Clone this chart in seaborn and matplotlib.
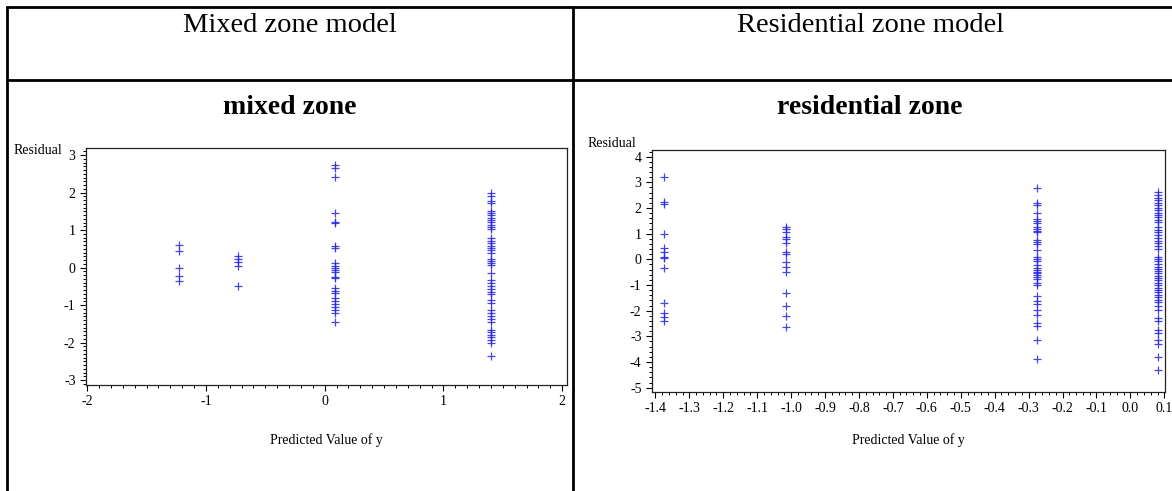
import numpy as np
import pandas as pd
import matplotlib
matplotlib.use("Agg")
import matplotlib.pyplot as plt
from matplotlib.lines import Line2D
from matplotlib.ticker import MultipleLocator, FuncFormatter
import seaborn as sns

# ---- data -------------------------------------------------------------
mixed_levels = [-1.23, -0.73, 0.09, 1.40]
mixed_resid_1 = [0.60, 0.45, -0.01, -0.23, -0.35]
mixed_resid_2 = [0.30, 0.22, 0.16, 0.05, -0.48]
mixed_resid_3 = [2.75, 2.66, 2.42, 1.45, 1.22, 1.19, 0.57, 0.52, 0.12, 0.05,
                 -0.02, -0.06, -0.12, -0.25, -0.28, -0.55, -0.62, -0.68,
                 -0.82, -0.90, -0.98, -1.05, -1.12, -1.20, -1.45]
mixed_resid_4 = [1.98, 1.92, 1.78, 1.72, 1.52, 1.45, 1.40, 1.33, 1.27, 1.22,
                 1.15, 1.08, 1.02, 0.78, 0.72, 0.66, 0.58, 0.52, 0.46, 0.40,
                 0.24, 0.18, 0.12, 0.06, -0.14, -0.33, -0.40, -0.48, -0.56,
                 -0.64, -0.70, -0.86, -0.94, -1.12, -1.20, -1.28, -1.36,
                 -1.44, -1.66, -1.72, -1.80, -1.86, -1.92, -2.00, -2.35]

res_levels = [-1.375, -1.015, -0.275, 0.082]
res_resid_1 = [3.20, 2.22, 2.17, 1.00, 0.45, 0.28, 0.10, 0.06, -0.35, -1.70,
               -2.10, -2.25, -2.40]
res_resid_2 = [1.25, 1.18, 1.08, 0.86, 0.80, 0.65, 0.30, 0.20, -0.12, -0.30,
               -0.50, -1.32, -1.82, -2.22, -2.65]
res_resid_3 = [2.78, 2.20, 2.12, 1.82, 1.58, 1.50, 1.42, 1.25, 1.18, 1.12,
               1.05, 0.75, 0.68, 0.60, 0.36, 0.10, 0.02, -0.06, -0.24, -0.32,
               -0.40, -0.48, -0.55, -0.62, -0.70, -0.78, -0.92, -1.02, -1.42,
               -1.62, -1.76, -1.96, -2.16, -2.48, -2.60, -3.15, -3.90]
res_resid_4 = [2.62, 2.52, 2.40, 2.32, 2.20, 2.10, 2.00, 1.92, 1.82, 1.72,
               1.64, 1.55, 1.45, 1.26, 1.15, 1.05, 0.95, 0.85, 0.72, 0.62,
               0.50, 0.42, 0.10, 0.02, -0.08, -0.18, -0.28, -0.36, -0.46,
               -0.55, -0.64, -0.72, -0.82, -0.92, -1.00, -1.10, -1.18, -1.28,
               -1.38, -1.48, -1.58, -1.68, -1.80, -1.96, -2.28, -2.40, -2.75,
               -2.88, -3.15, -3.30, -3.80, -4.32]

column_titles = ["Mixed zone model", "Residential zone model"]
panel_titles = ["mixed zone", "residential zone"]
x_label = "Predicted Value of y"
y_label = "Residual"


def long_frame(levels, groups):
    xs, ys = [], []
    for lv, g in zip(levels, groups):
        xs += [lv] * len(g)
        ys += list(g)
    return pd.DataFrame({"pred": xs, "resid": ys})


mixed_df = long_frame(mixed_levels, [mixed_resid_1, mixed_resid_2,
                                     mixed_resid_3, mixed_resid_4])
res_df = long_frame(res_levels, [res_resid_1, res_resid_2,
                                 res_resid_3, res_resid_4])

# ---- figure -----------------------------------------------------------
sns.set_theme(style="white")
plt.rcParams["font.family"] = ["Liberation Serif", "DejaVu Serif"]
plt.rcParams["text.color"] = "black"
plt.rcParams["xtick.color"] = "black"
plt.rcParams["ytick.color"] = "black"
plt.rcParams["xtick.labelcolor"] = "black"
plt.rcParams["ytick.labelcolor"] = "black"

W, H = 1172, 491
fig = plt.figure(figsize=(W / 100, H / 100), dpi=100)
fig.patch.set_facecolor("white")


def fx(px):
    return px / W


def fy(py):
    return 1 - py / H


def add_ax(left, top, right, bottom):
    return fig.add_axes([fx(left), fy(bottom), (right - left) / W,
                         (bottom - top) / H])


# table grid
grid_kw = dict(color="black", linewidth=2.0, solid_capstyle="butt")
fig.add_artist(Line2D([fx(6), fx(W)], [fy(7), fy(7)], **grid_kw))
fig.add_artist(Line2D([fx(6), fx(W)], [fy(80), fy(80)], **grid_kw))
fig.add_artist(Line2D([fx(7), fx(7)], [fy(6), fy(H)], **grid_kw))
fig.add_artist(Line2D([fx(573), fx(573)], [fy(6), fy(H)], **grid_kw))

fig.text(fx(290), fy(26), column_titles[0], ha="center", va="center",
         fontsize=20.5, color="black")
fig.text(fx(870), fy(26), column_titles[1], ha="center", va="center",
         fontsize=20.5, color="black")
fig.text(fx(290), fy(107), panel_titles[0], ha="center", va="center",
         fontsize=20, fontweight="bold", color="black")
fig.text(fx(870), fy(107), panel_titles[1], ha="center", va="center",
         fontsize=20, fontweight="bold", color="black")

mark_color = "#2626e0"


def num_fmt(decimals):
    def f(v, pos):
        s = f"{v:.{decimals}f}"
        if s.startswith("-") and float(s) == 0:
            s = s[1:]
        return s
    return FuncFormatter(f)


def style_axes(ax, xlim, ylim, xmaj, xmin, ymaj, ymin, xdec, ydec):
    ax.set_xlim(*xlim)
    ax.set_ylim(*ylim)
    ax.xaxis.set_major_locator(MultipleLocator(xmaj))
    ax.xaxis.set_minor_locator(MultipleLocator(xmin))
    ax.yaxis.set_major_locator(MultipleLocator(ymaj))
    ax.yaxis.set_minor_locator(MultipleLocator(ymin))
    ax.xaxis.set_major_formatter(num_fmt(xdec))
    ax.yaxis.set_major_formatter(num_fmt(ydec))
    for s in ax.spines.values():
        s.set_visible(True)
        s.set_color("#222222")
        s.set_linewidth(0.9)
    ax.tick_params(which="major", direction="out", length=4.5, width=0.8,
                   color="black", labelcolor="black", labelsize=10, pad=3,
                   bottom=True, left=True, top=False, right=False)
    ax.tick_params(which="minor", direction="out", length=2.4, width=0.7,
                   color="black", bottom=True, left=True, top=False,
                   right=False)
    ax.set_xlabel("")
    ax.set_ylabel("")
    ax.grid(False)
    ax.set_facecolor("white")


# left panel
ax1 = add_ax(86, 148, 567, 385)
sns.scatterplot(data=mixed_df, x="pred", y="resid", marker="+", s=40,
                color=mark_color, linewidth=0.9, alpha=0.85, ax=ax1,
                legend=False)
style_axes(ax1, (-2.01, 2.04), (-3.13, 3.19), 1, 0.1, 1, 0.1, 0, 0)
fig.text(fx(326), fy(440), x_label, ha="center", va="center", fontsize=10)
fig.text(fx(62), fy(150), y_label, ha="right", va="center", fontsize=10)

# right panel
ax2 = add_ax(652, 150, 1165, 392)
sns.scatterplot(data=res_df, x="pred", y="resid", marker="+", s=40,
                color=mark_color, linewidth=0.9, alpha=0.85, ax=ax2,
                legend=False)
style_axes(ax2, (-1.41, 0.102), (-5.17, 4.26), 0.1, 0.02, 1, 0.2, 1, 0)
fig.text(fx(908), fy(440), x_label, ha="center", va="center", fontsize=10)
fig.text(fx(636), fy(143), y_label, ha="right", va="center", fontsize=10)

fig.savefig("out.png", dpi=100, facecolor="white")
